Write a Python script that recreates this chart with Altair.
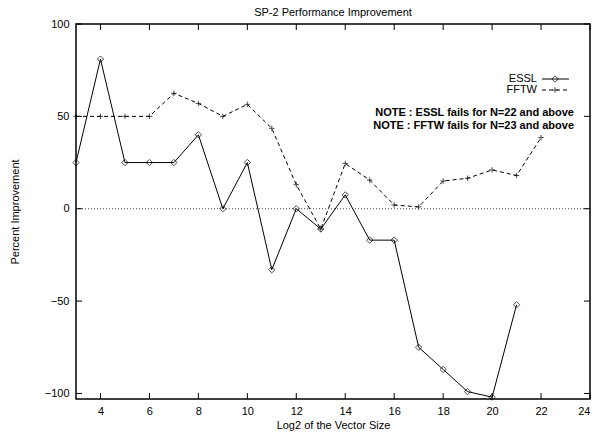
import altair as alt
import pandas as pd

# ---- data ----
essl_x = list(range(3, 22))
essl_y = [25, 81, 25, 25, 25, 40, 0, 25, -33, 0, -11, 7.5, -17, -17, -75, -87, -99, -102, -52]
fftw_x = list(range(3, 23))
fftw_y = [50, 50, 50, 50, 62.5, 57, 50, 56.5, 43.5, 13, -11, 24.5, 15.5, 2, 1, 15, 16.5, 21, 18, 38.5]
series_names = ["ESSL", "FFTW"]
notes = ["NOTE : ESSL fails for N=22 and above", "NOTE : FFTW fails for N=23 and above"]
x_ticks = list(range(4, 25, 2))
y_ticks = [-100, -50, 0, 50, 100]
x_domain = [3, 24]
y_domain = [-103, 100]

W, H = 514, 375
FONT = "Liberation Sans"

essl = pd.DataFrame({"x": essl_x, "y": essl_y})
fftw = pd.DataFrame({"x": fftw_x, "y": fftw_y})

xs = alt.Scale(domain=x_domain, nice=False, zero=False)
ys = alt.Scale(domain=y_domain, nice=False, zero=False)

x_enc = alt.X("x:Q", scale=xs, axis=alt.Axis(
    values=x_ticks, title="Log2 of the Vector Size", grid=False, domain=False, ticks=False,
    labelFont=FONT, labelFontSize=11, labelColor="black", labelPadding=6,
    titleFont=FONT, titleFontSize=11, titleFontWeight="normal", titleColor="black",
    titleX=W / 2, titleY=20, titleBaseline="top"))
y_enc = alt.Y("y:Q", scale=ys, axis=alt.Axis(
    values=y_ticks, title="Percent Improvement", grid=False, domain=False, ticks=False,
    labelFont=FONT, labelFontSize=11, labelColor="black", labelPadding=7,
    titleFont=FONT, titleFontSize=11, titleFontWeight="normal", titleColor="black",
    titleX=-61, titleY=H / 2, titleAngle=270, titleBaseline="middle", titleAlign="center"))

plus_path = "M-1,0H1M0,-1V1"

zero = alt.Chart(pd.DataFrame({"y": [0]})).mark_rule(
    color="#444", strokeDash=[1, 2], strokeWidth=1).encode(y=alt.Y("y:Q", scale=ys))

essl_line = alt.Chart(essl).mark_line(color="black", strokeWidth=1).encode(x=x_enc, y=y_enc)
essl_pts = alt.Chart(essl).mark_point(shape="diamond", size=40, filled=False,
                                      color="black", strokeWidth=1).encode(x="x:Q", y="y:Q")
fftw_line = alt.Chart(fftw).mark_line(color="black", strokeWidth=1, strokeDash=[4, 3]).encode(
    x="x:Q", y="y:Q")
fftw_pts = alt.Chart(fftw).mark_point(shape=plus_path, size=30, filled=False,
                                      color="black", strokeWidth=1).encode(x="x:Q", y="y:Q")

# inward ticks (gnuplot style, mirrored)
xt = pd.DataFrame({"x": x_ticks})
yt = pd.DataFrame({"y": y_ticks})
TL = 6
tick_b = alt.Chart(xt).mark_rule(color="black").encode(
    x="x:Q", y=alt.value(H), y2=alt.value(H - TL))
tick_t = alt.Chart(xt).mark_rule(color="black").encode(
    x="x:Q", y=alt.value(0), y2=alt.value(TL))
tick_l = alt.Chart(yt).mark_rule(color="black").encode(
    y="y:Q", x=alt.value(0), x2=alt.value(TL))
tick_r = alt.Chart(yt).mark_rule(color="black").encode(
    y="y:Q", x=alt.value(W), x2=alt.value(W - TL))

# manual gnuplot-style key
KEY_Y = [55, 66]
NOTE_Y = [89, 102]
key_layers = []
for i, name in enumerate(series_names):
    key_layers.append(alt.Chart(pd.DataFrame({"s": [name]})).mark_text(
        align="right", baseline="middle", font=FONT, fontSize=11, color="black").encode(
        x=alt.value(461), y=alt.value(KEY_Y[i]), text="s:N"))
    key_layers.append(alt.Chart(pd.DataFrame({"s": [name]})).mark_rule(
        color="black", strokeWidth=1, strokeDash=[1, 0] if i == 0 else [4, 3]).encode(
        x=alt.value(466), x2=alt.value(493), y=alt.value(KEY_Y[i])))
    key_layers.append(alt.Chart(pd.DataFrame({"s": [name]})).mark_point(
        shape="diamond" if i == 0 else plus_path, size=40 if i == 0 else 30,
        filled=False, color="black", strokeWidth=1).encode(
        x=alt.value(479), y=alt.value(KEY_Y[i])))
for i, note in enumerate(notes):
    key_layers.append(alt.Chart(pd.DataFrame({"n": [note]})).mark_text(
        align="right", baseline="middle", font=FONT, fontSize=11, fontWeight="bold",
        color="black").encode(x=alt.value(498), y=alt.value(NOTE_Y[i]), text="n:N"))

chart = alt.layer(
    zero, essl_line, essl_pts, fftw_line, fftw_pts,
    tick_b, tick_t, tick_l, tick_r, *key_layers,
).properties(
    width=W, height=H,
    title=alt.TitleParams("SP-2 Performance Improvement", font=FONT, fontSize=11,
                          fontWeight="normal", color="black", anchor="middle", offset=0),
    autosize=alt.AutoSizeParams(type="none"),
    padding={"left": 76, "top": 24, "right": 6, "bottom": 33},
    background="white",
).configure_view(stroke="black", strokeWidth=1.5)

chart.save("out.html", embed_options={"renderer": "svg", "actions": False})
